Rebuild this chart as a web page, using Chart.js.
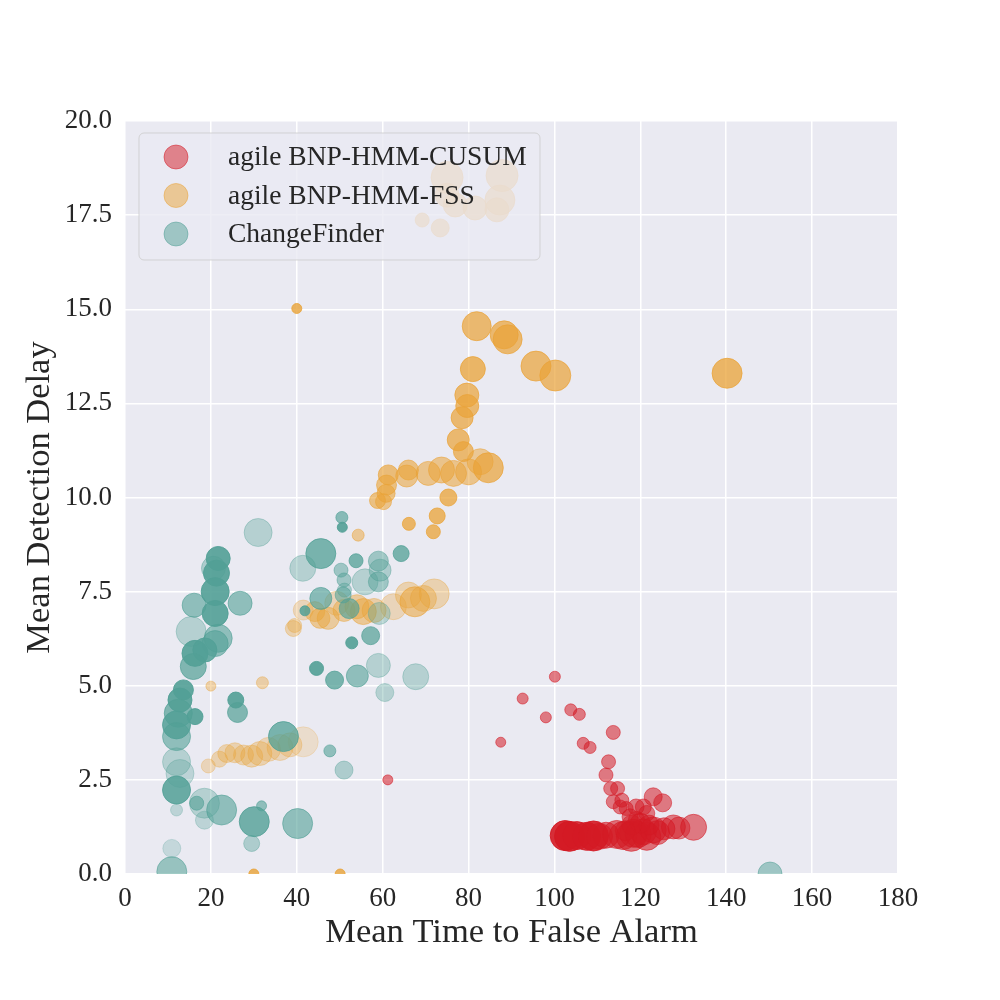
<!DOCTYPE html>
<html>
<head>
<meta charset="utf-8">
<script src="https://cdn.jsdelivr.net/npm/chart.js@4.4.1/dist/chart.umd.min.js"></script>
<style>
  html, body { margin: 0; padding: 0; background: #fff; }
  #wrap { width: 1000px; height: 1000px; }
</style>
</head>
<body>
<div id="wrap"><canvas id="scatter" width="1000" height="1000"></canvas></div>
<script>
// series names
var seriesNames = ["agile BNP-HMM-CUSUM", "agile BNP-HMM-FSS", "ChangeFinder"];

// agile BNP-HMM-CUSUM
var cusumX = [61.2, 87.5, 92.6, 98.0, 100.1, 103.8, 105.8, 106.7, 108.3, 113.7, 112.6, 112.0, 113.1, 114.7, 113.7, 115.7, 116.7, 119.0, 120.7, 123.0, 125.2, 121.5, 117.6, 119.1, 115.3,
  102.5, 103.5, 105.2, 107.5, 109.1, 110.5, 112.0, 114.5, 116.0, 117.9, 118.4, 119.5, 120.7, 121.5, 123.0, 124.0, 125.5, 127.7, 129.0, 132.4, 122.0, 120.0, 118.0, 116.5];
var cusumY = [2.50, 3.50, 4.66, 4.16, 5.24, 4.36, 4.24, 3.47, 3.36, 3.76, 2.98, 2.63, 2.27, 2.27, 1.92, 1.96, 1.74, 1.78, 1.78, 2.05, 1.89, 1.61, 1.52, 1.45, 1.78,
  1.02, 1.00, 1.02, 1.00, 1.01, 1.00, 1.03, 1.05, 1.02, 1.00, 1.08, 1.05, 1.12, 1.00, 1.17, 1.10, 1.20, 1.25, 1.22, 1.24, 1.30, 1.35, 1.30, 1.15];
var cusumSize = [5, 5, 5.5, 5.5, 5.5, 6, 6, 6, 6, 7, 7, 7, 7, 7, 7, 7, 7, 8, 8, 9, 9, 8, 8, 8, 7,
  15, 15, 14, 14, 15, 13, 13, 14, 14, 15, 14, 13, 13, 14, 13, 12, 11, 12, 11, 13, 10, 10, 10, 10];
var cusumAlpha = [0.55, 0.55, 0.55, 0.55, 0.55, 0.55, 0.55, 0.55, 0.55, 0.55, 0.55, 0.55, 0.55, 0.55, 0.55, 0.55, 0.55, 0.55, 0.55, 0.55, 0.55, 0.55, 0.55, 0.55, 0.55,
  0.9, 0.9, 0.85, 0.85, 0.9, 0.6, 0.6, 0.6, 0.6, 0.6, 0.6, 0.6, 0.6, 0.6, 0.55, 0.55, 0.55, 0.55, 0.5, 0.55, 0.55, 0.55, 0.5, 0.5];

// agile BNP-HMM-FSS
var fssX = [69.2, 73.4, 75.0, 75.0, 76.9, 81.5, 87.8, 87.3, 86.6,
  40.0, 81.9, 88.3, 89.1, 95.7, 100.2, 140.2, 81.0, 79.6, 79.7, 78.5, 77.6, 78.8, 82.7, 84.6, 80.0, 76.5, 73.7, 70.6, 65.6, 66.0, 61.3, 60.9, 60.8, 58.8, 60.2, 75.3, 72.7, 71.8, 66.1, 54.3,
  39.2, 39.5, 41.5, 44.2, 45.4, 47.3, 49.3, 51.0, 54.0, 55.5, 58.0, 62.5, 66.0, 67.5, 69.5, 72.0,
  19.4, 22.0, 23.7, 25.6, 27.6, 29.5, 31.4, 33.4, 36.1, 38.4, 41.5,
  20.0, 32.0, 30.0, 50.1];
var fssY = [17.37, 17.16, 18.50, 18.03, 17.77, 17.69, 18.55, 17.90, 17.64,
  15.02, 14.55, 14.32, 14.20, 13.49, 13.24, 13.30, 13.41, 12.72, 12.43, 12.12, 11.53, 11.22, 10.95, 10.79, 10.68, 10.64, 10.73, 10.64, 10.57, 10.73, 10.60, 10.33, 10.11, 9.92, 9.89, 10.00, 9.51, 9.09, 9.30, 9.00,
  6.52, 6.60, 7.01, 6.97, 6.79, 6.79, 7.19, 7.00, 7.10, 6.97, 7.00, 7.10, 7.41, 7.23, 7.32, 7.44,
  2.87, 3.05, 3.20, 3.22, 3.16, 3.13, 3.20, 3.31, 3.36, 3.43, 3.51,
  4.99, 5.08, 0.00, 0.00];
var fssSize = [7, 9, 16, 12, 12, 12, 16, 15, 12,
  5, 14.5, 14, 14.5, 15, 15.5, 15, 12.5, 12, 11.5, 11, 11, 10, 13, 15, 13, 13, 13, 12, 11, 10, 10, 10, 9, 8, 8, 8.5, 8, 7, 6.5, 6,
  8, 7, 10, 10, 10, 11, 12, 11, 12, 13, 12, 13, 13, 15, 13, 15,
  7, 8, 9, 10, 10, 11, 12, 12, 13, 12, 15,
  5, 6, 5, 5];
var fssAlpha = [0.7, 0.7, 0.7, 0.7, 0.7, 0.7, 0.7, 0.7, 0.7,
  0.8, 0.7, 0.7, 0.7, 0.7, 0.7, 0.75, 0.75, 0.7, 0.7, 0.7, 0.7, 0.7, 0.5, 0.7, 0.55, 0.55, 0.55, 0.55, 0.55, 0.6, 0.65, 0.6, 0.6, 0.6, 0.55, 0.75, 0.75, 0.75, 0.75, 0.5,
  0.35, 0.35, 0.3, 0.45, 0.5, 0.45, 0.3, 0.45, 0.45, 0.5, 0.4, 0.3, 0.35, 0.55, 0.4, 0.35,
  0.3, 0.35, 0.35, 0.35, 0.35, 0.35, 0.35, 0.3, 0.3, 0.3, 0.2,
  0.4, 0.4, 0.8, 0.8];

// ChangeFinder
var cfX = [31.0, 21.7, 20.6, 21.3, 21.0, 16.1, 26.8, 21.0, 15.4, 21.7, 21.0, 16.3, 18.6, 15.9, 13.6, 12.8, 16.3, 12.4, 12.0, 12.0, 12.0, 12.8, 12.0, 12.0, 16.7, 18.5, 18.5, 22.5, 31.8, 30.1, 29.5, 40.2, 10.9, 10.9,
  25.8, 26.2, 36.9, 47.7, 51.0, 50.5, 50.6, 45.6, 41.4, 53.8, 59.0, 64.3, 50.3, 51.0, 55.9, 59.4, 59.0, 45.6, 50.8, 51.1, 52.2, 41.9, 59.2, 57.2, 52.8, 44.6, 48.8, 54.1, 59.0, 60.5, 67.7, 150.2];
var cfY = [9.07, 8.38, 8.12, 7.99, 7.50, 7.14, 7.19, 6.92, 6.44, 6.26, 6.12, 5.86, 5.95, 5.51, 4.89, 4.62, 4.18, 4.27, 3.96, 3.65, 2.98, 2.67, 2.23, 1.70, 1.88, 1.88, 1.43, 1.70, 1.81, 1.39, 0.81, 1.34, 0.68, 0.06,
  4.62, 4.29, 3.65, 3.27, 2.76, 9.47, 9.21, 8.51, 8.12, 8.32, 8.31, 8.51, 8.07, 7.81, 7.76, 8.07, 7.76, 7.32, 7.41, 7.54, 7.05, 6.99, 6.92, 6.33, 6.14, 5.46, 5.15, 5.26, 5.54, 4.82, 5.24, 0.00];
var cfSize = [14, 12, 12, 13, 14, 12, 12, 13, 15, 14, 13, 13, 12, 13, 10, 12, 8, 14, 14, 14, 14, 14, 14, 6, 7, 15, 9, 15, 5, 15, 8, 15, 9, 15,
  8, 10, 15, 6, 9, 6, 5, 15, 13, 7, 10, 8, 7, 7, 13, 11, 10, 11, 8, 7, 10, 5, 11, 9, 6, 7, 9, 11, 12, 9, 13, 12];
var cfAlpha = [0.35, 0.9, 0.4, 0.9, 0.9, 0.6, 0.6, 0.9, 0.35, 0.6, 0.6, 0.9, 0.85, 0.7, 0.9, 0.9, 0.9, 0.7, 0.85, 0.6, 0.35, 0.3, 0.85, 0.3, 0.6, 0.35, 0.3, 0.6, 0.6, 0.8, 0.4, 0.6, 0.25, 0.55,
  0.9, 0.7, 0.75, 0.6, 0.4, 0.65, 0.9, 0.75, 0.35, 0.75, 0.5, 0.75, 0.5, 0.5, 0.35, 0.4, 0.5, 0.65, 0.55, 0.4, 0.65, 0.85, 0.35, 0.7, 0.9, 0.9, 0.75, 0.6, 0.35, 0.35, 0.35, 0.5];

var xTicks = [0, 20, 40, 60, 80, 100, 120, 140, 160, 180];
var yTicks = [0, 2.5, 5, 7.5, 10, 12.5, 15, 17.5, 20];

var baseColors = [[212, 26, 36], [233, 163, 55], [82, 160, 150]];

function rgba(c, a) {
  return "rgba(" + c[0] + "," + c[1] + "," + c[2] + "," + a + ")";
}

function points(xs, ys) {
  return xs.map(function (x, i) { return { x: x, y: ys[i] }; });
}

function makeSet(idx, xs, ys, sizes, alphas, order) {
  var c = baseColors[idx];
  return {
    label: seriesNames[idx],
    data: points(xs, ys),
    pointRadius: sizes,
    backgroundColor: alphas.map(function (a) { return rgba(c, a); }),
    borderColor: alphas.map(function (a) { return rgba(c, a); }),
    borderWidth: 1,
    clip: 0,
    order: order
  };
}

// seaborn style background for the plot area
const plotBackground = {
  id: "plotBackground",
  beforeDraw: (chart) => {
    let a = chart.chartArea;
    let ctx = chart.ctx;
    ctx.save();
    ctx.fillStyle = "#eaeaf2";
    ctx.fillRect(a.left, a.top, a.right - a.left, a.bottom - a.top);
    ctx.restore();
  }
};

// legend box drawn over the points, like matplotlib's framed legend
const frameLegend = {
  id: "frameLegend",
  afterDraw: (chart) => {
    let ctx = chart.ctx;
    let a = chart.chartArea;
    let bx = a.left + 14, by = a.top + 12, bw = 401, bh = 127;
    ctx.save();
    ctx.beginPath();
    ctx.roundRect(bx, by, bw, bh, 5);
    ctx.fillStyle = "rgba(234,234,242,0.8)";
    ctx.fill();
    ctx.strokeStyle = "rgba(204,204,204,0.8)";
    ctx.lineWidth = 1;
    ctx.stroke();
    ctx.font = "27.5px 'Liberation Serif', 'DejaVu Serif', serif";
    ctx.textBaseline = "middle";
    seriesNames.forEach(function (name, i) {
      let cy = by + 24 + i * 38.5;
      ctx.beginPath();
      ctx.arc(bx + 37, cy, 12, 0, Math.PI * 2);
      ctx.fillStyle = rgba(baseColors[i], 0.5);
      ctx.fill();
      ctx.strokeStyle = rgba(baseColors[i], 0.5);
      ctx.stroke();
      ctx.fillStyle = "#262626";
      ctx.fillText(name, bx + 89, cy + 1);
    });
    ctx.restore();
  }
};

var tickFont = { family: "'Liberation Serif', 'DejaVu Serif', serif", size: 27 };
var titleFont = { family: "'Liberation Serif', 'DejaVu Serif', serif", size: 34.5 };

var ctxS = document.getElementById("scatter").getContext("2d");
var chart = new Chart(ctxS, {
  type: "scatter",
  plugins: [plotBackground, frameLegend],
  data: {
    datasets: [
      makeSet(0, cusumX, cusumY, cusumSize, cusumAlpha, 2),
      makeSet(1, fssX, fssY, fssSize, fssAlpha, 1),
      makeSet(2, cfX, cfY, cfSize, cfAlpha, 0)
    ]
  },
  options: {
    responsive: false,
    devicePixelRatio: 1,
    animation: false,
    events: [],
    layout: { padding: { top: 121, right: 102, bottom: 0, left: 0 } },
    plugins: {
      legend: { display: false },
      tooltip: { enabled: false }
    },
    scales: {
      x: {
        type: "linear",
        min: 0,
        max: 180,
        afterFit: (scale) => { scale.height = 126; },
        afterBuildTicks: (scale) => { scale.ticks = xTicks.map(function (v) { return { value: v }; }); },
        grid: { color: "#ffffff", lineWidth: 1.5, drawTicks: false },
        border: { display: false },
        ticks: { font: tickFont, color: "#262626", padding: 9, maxRotation: 0 },
        title: { display: true, text: "Mean Time to False Alarm", font: titleFont, color: "#262626", padding: { top: 0, bottom: 46 } }
      },
      y: {
        type: "linear",
        min: 0,
        max: 20,
        afterFit: (scale) => { scale.width = 125; },
        afterBuildTicks: (scale) => { scale.ticks = yTicks.map(function (v) { return { value: v }; }); },
        grid: { color: "#ffffff", lineWidth: 1.5, drawTicks: false },
        border: { display: false },
        ticks: {
          font: tickFont, color: "#262626", padding: 13,
          callback: function (v) { return Number(v).toFixed(1); }
        },
        title: { display: true, text: "Mean Detection Delay", font: titleFont, color: "#262626", padding: { top: 19, bottom: 0 } }
      }
    }
  }
});
</script>
</body>
</html>
